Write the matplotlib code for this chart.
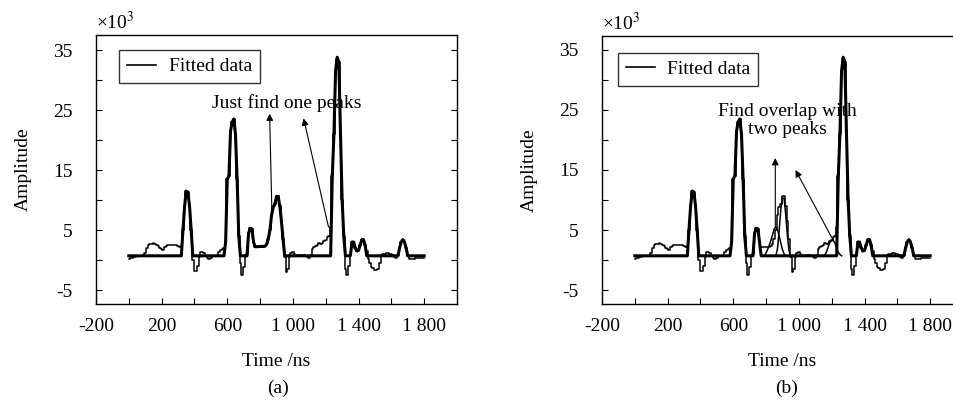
import matplotlib
matplotlib.use("Agg")
import matplotlib.pyplot as plt
from matplotlib.lines import Line2D
from matplotlib.ticker import FixedLocator, FixedFormatter

plt.rcParams['font.family'] = ['Liberation Serif', 'DejaVu Serif']
plt.rcParams['mathtext.fontset'] = 'stix'
plt.rcParams['axes.unicode_minus'] = False

# ---------------- data ----------------
time_ns = list(range(0, 1810, 10))
raw_amp = [
    0.2, 0.3, 0.4, 0.5, 0.5, 0.6, 0.6, 0.7, 0.7, 0.8,        # 0-90
    1.2, 2.0, 2.5, 2.6, 2.7, 2.8, 2.7, 2.5, 2.3, 2.0,        # 100-190
    1.8, 1.6, 2.1, 2.4, 2.5, 2.5, 2.5, 2.5, 2.5, 2.5,        # 200-290
    2.4, 2.2, 2.3, 5.0, 9.0, 11.5, 11.3, 9.0, 5.0, 0.0,      # 300-390
    -1.9, -1.9, -1.0, 0.5, 1.4, 1.4, 1.2, 0.6, 0.3, 0.2,     # 400-490
    0.4, 0.6, 0.6, 0.7, 0.9, 1.3, 1.6, 1.8, 2.0, 3.0,        # 500-590
    13.5, 14.0, 21.5, 23.0, 23.5, 21.0, 13.5, 4.0, -0.5, -2.5,  # 600-690
    -1.2, 0.8, 1.0, 4.5, 5.3, 5.2, 3.0, 2.2, 2.2, 2.2,       # 700-790
    2.2, 2.2, 2.2, 2.3, 2.6, 3.5, 5.0, 7.5, 8.8, 9.3,        # 800-890
    10.6, 10.6, 9.0, 6.5, 3.5, 0.5, -2.0, -1.5, 0.5, 1.2,    # 900-990
    1.3, 1.0, 0.8, 0.7, 0.8, 0.7, 0.8, 0.8, 0.6, 0.5,        # 1000-1090
    0.3, 0.9, 1.8, 2.2, 2.3, 2.5, 2.9, 2.6, 2.8, 3.2,        # 1100-1190
    3.4, 3.8, 4.0, 5.5, 14.0, 21.0, 31.5, 33.5, 33.0, 21.0,  # 1200-1290
    10.0, 4.0, -1.5, -2.5, -1.0, 1.0, 3.0, 3.0, 2.0, 1.5,    # 1300-1390
    1.6, 2.5, 3.4, 3.4, 2.5, 1.5, 0.2, -0.5, -1.2, -1.3,     # 1400-1490
    -1.7, -1.7, -1.5, -0.5, 0.8, 1.0, 1.0, 1.1, 1.1, 1.0,    # 1500-1590
    1.0, 0.8, 0.5, 0.4, 0.8, 2.0, 3.0, 3.4, 3.0, 2.0,        # 1600-1690
    0.7, 0.2, 0.1, 0.1, 0.2, 0.4, 0.3, 0.3, 0.4, 0.4,        # 1700-1790
    0.3,                                                     # 1800
]

fit_a_t = [0, 320, 330, 340, 350, 360, 370, 380, 390,
           580, 590, 600, 610, 620, 630, 640, 650, 660, 670, 680,
           720, 730, 740, 750, 760, 770, 830, 840, 850, 860, 870, 880, 890,
           900, 910, 920, 930, 940, 950,
           1230, 1240, 1250, 1260, 1270, 1280, 1290, 1300, 1310, 1320,
           1350, 1360, 1370, 1380, 1390, 1400, 1410, 1420, 1430, 1440, 1450,
           1640, 1650, 1660, 1670, 1680, 1690, 1700, 1800]
fit_a_v = [0.7, 0.7, 5.0, 9.0, 11.5, 11.3, 9.0, 5.0, 0.7,
           0.7, 3.0, 13.5, 14.0, 21.5, 23.0, 23.5, 21.0, 13.5, 4.0, 0.7,
           0.7, 4.5, 5.3, 5.2, 3.0, 2.2, 2.3, 2.6, 3.5, 5.0, 7.5, 8.8, 9.3,
           10.6, 10.6, 9.0, 6.5, 3.5, 0.7,
           0.7, 14.0, 21.0, 31.5, 33.8, 33.0, 21.0, 10.0, 4.0, 0.7,
           0.7, 3.0, 3.0, 2.0, 1.5, 1.6, 2.5, 3.4, 3.4, 2.5, 0.7,
           0.7, 2.0, 3.0, 3.4, 3.0, 2.0, 0.7, 0.7]

fit_b_t = [0, 320, 330, 340, 350, 360, 370, 380, 390,
           580, 590, 600, 610, 620, 630, 640, 650, 660, 670, 680,
           720, 730, 740, 750, 760, 770,
           1230, 1240, 1250, 1260, 1270, 1280, 1290, 1300, 1310, 1320,
           1350, 1360, 1370, 1380, 1390, 1400, 1410, 1420, 1430, 1440, 1450,
           1640, 1650, 1660, 1670, 1680, 1690, 1700, 1800]
fit_b_v = [0.7, 0.7, 5.0, 9.0, 11.5, 11.3, 9.0, 5.0, 0.7,
           0.7, 3.0, 13.5, 14.0, 21.5, 23.0, 23.5, 21.0, 13.5, 4.0, 0.7,
           0.7, 4.5, 5.3, 5.2, 3.0, 0.7,
           0.7, 14.0, 21.0, 31.5, 33.8, 33.0, 21.0, 10.0, 4.0, 0.7,
           0.7, 3.0, 3.0, 2.0, 1.5, 1.6, 2.5, 3.4, 3.4, 2.5, 0.7,
           0.7, 2.0, 3.0, 3.4, 3.0, 2.0, 0.7, 0.7]

# overlap components shown in (b)
comp1_t = [790, 800, 810, 820, 830, 840, 850, 860, 870, 880, 890, 900, 910, 920]
comp1_v = [0.7, 1.2, 1.8, 2.5, 3.3, 4.3, 5.2, 5.5, 5.0, 4.0, 2.8, 1.7, 1.0, 0.7]
comp2_t = [860, 870, 880, 890, 900, 910, 920, 930, 940, 950]
comp2_v = [0.7, 2.0, 5.0, 8.5, 10.4, 10.2, 7.5, 4.0, 1.5, 0.7]
comp3_t = [1150, 1160, 1170, 1180, 1190, 1200, 1210, 1220, 1230, 1240, 1250, 1260]
comp3_v = [0.7, 0.9, 1.5, 2.3, 3.0, 3.3, 3.2, 2.8, 2.0, 1.3, 0.9, 0.7]

xtick_major = [-200, 200, 600, 1000, 1400, 1800]
xtick_labels = ['-200', '200', '600', '1 000', '1 400', '1 800']
xtick_minor = [0, 400, 800, 1200, 1600]
ytick_major = [-5, 5, 15, 25, 35]
ytick_minor = [0, 10, 20, 30]

FS = 14
THIN = 1.1
THICK = 2.2

fig = plt.figure(figsize=(9.54, 4.03), dpi=100)
W, H = 954, 403


def make_axes(left_px, top_px, bottom_px):
    ax = fig.add_axes([left_px / W, (H - bottom_px) / H, 361 / W, (bottom_px - top_px) / H])
    return ax


def style(ax, ytop):
    ax.set_xlim(-200, 2000)
    ax.set_ylim(-7.33, ytop)
    ax.xaxis.set_major_locator(FixedLocator(xtick_major))
    ax.xaxis.set_major_formatter(FixedFormatter(xtick_labels))
    ax.xaxis.set_minor_locator(FixedLocator(xtick_minor))
    ax.yaxis.set_major_locator(FixedLocator(ytick_major))
    ax.yaxis.set_minor_locator(FixedLocator(ytick_minor))
    ax.tick_params(axis='x', which='both', direction='in', length=4, width=0.8,
                   labelsize=FS, pad=10, top=False)
    ax.tick_params(axis='y', which='both', direction='in', length=4, width=0.8,
                   labelsize=FS, pad=17, right=True)
    for s in ax.spines.values():
        s.set_linewidth(1.0)
    ax.set_xlabel('Time /ns', fontsize=FS, labelpad=13)
    ax.set_ylabel('Amplitude', fontsize=FS, labelpad=15)
    ax.text(0.0, 1.006, '×10$^{3}$', transform=ax.transAxes, fontsize=FS,
            ha='left', va='bottom')
    h = Line2D([], [], color='black', lw=1.2)
    leg = ax.legend([h], ['Fitted data'], loc='upper left', fontsize=FS,
                    frameon=True, fancybox=False, shadow=False,
                    borderpad=0.4, handlelength=1.5, handletextpad=0.65,
                    borderaxespad=0)
    leg.get_frame().set_edgecolor('black')
    leg.get_frame().set_linewidth(1.0)
    return leg


ARROW = dict(arrowstyle='-|>', color='black', lw=0.8, mutation_scale=10,
             shrinkA=0, shrinkB=0)

# ---------------- panel (a) ----------------
axA = make_axes(96, 35, 304)
axA.plot(time_ns, raw_amp, color='black', lw=THIN, drawstyle='steps-mid')
axA.plot(fit_a_t, fit_a_v, color='black', lw=THICK)
legA = style(axA, 37.5)
legA.set_bbox_to_anchor((0.064, 0.944), transform=axA.transAxes)
axA.text(960, 26.1, 'Just find one peaks', fontsize=FS, ha='center', va='center')
axA.annotate('', xy=(858, 24.4), xytext=(872, 8.0), arrowprops=ARROW)
axA.annotate('', xy=(1065, 23.6), xytext=(1217, 5.5), arrowprops=ARROW)
fig.text(278 / W, 1 - 388 / H, '(a)', fontsize=FS, ha='center', va='center')

# ---------------- panel (b) ----------------
axB = make_axes(602, 36, 304)
axB.plot(time_ns, raw_amp, color='black', lw=THIN, drawstyle='steps-mid')
axB.plot(comp1_t, comp1_v, color='black', lw=THIN)
axB.plot(comp2_t, comp2_v, color='black', lw=THIN)
axB.plot(comp3_t, comp3_v, color='black', lw=THIN)
axB.plot(fit_b_t, fit_b_v, color='black', lw=THICK)
legB = style(axB, 37.33)
legB.set_bbox_to_anchor((0.044, 0.938), transform=axB.transAxes)
axB.text(928, 23.3, 'Find overlap with\ntwo peaks', fontsize=FS, ha='center',
         va='center', linespacing=1.1)
axB.annotate('', xy=(856, 17.0), xytext=(856, 5.5), arrowprops=ARROW)
axB.annotate('', xy=(979, 15.0), xytext=(1207, 3.4), arrowprops=ARROW)
fig.text(787 / W, 1 - 388 / H, '(b)', fontsize=FS, ha='center', va='center')

fig.savefig('out.png', dpi=100)
